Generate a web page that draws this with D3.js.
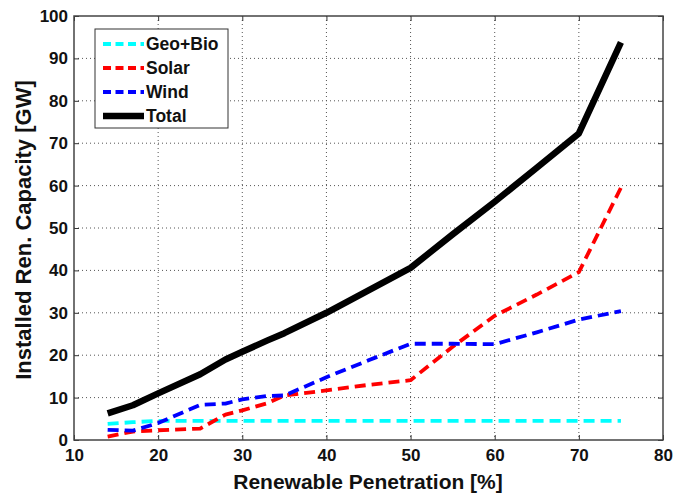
<!DOCTYPE html>
<html>
<head>
<meta charset="UTF-8">
<script src="https://d3js.org/d3.v7.min.js"></script>
<style>
  body { margin: 0; background: #fff; }
  text { font-family: "Liberation Sans", Arial, sans-serif; font-weight: bold; }
</style>
</head>
<body>
<svg id="chart"></svg>
<script>
// renewable penetration [%]
const penetration = [14, 17, 20, 25, 28, 30, 33, 35, 40, 45, 50, 55, 60, 65, 70, 75];
// installed capacity [GW]
const geoBio = [3.8, 4.2, 4.5, 4.5, 4.5, 4.5, 4.5, 4.5, 4.5, 4.5, 4.5, 4.5, 4.5, 4.5, 4.5, 4.5];
const solar  = [0.8, 2.0, 2.3, 2.7, 6.0, 7.0, 8.7, 10.5, 11.7, 13.0, 14.1, 22.0, 29.3, 34.3, 39.6, 59.5];
const wind   = [2.4, 2.2, 4.0, 8.3, 8.6, 9.6, 10.4, 10.5, 14.8, 18.8, 22.7, 22.7, 22.6, 25.4, 28.4, 30.4];
const total  = [6.3, 8.2, 11.0, 15.5, 19.0, 20.8, 23.5, 25.2, 30.0, 35.3, 40.6, 48.5, 56.2, 64.2, 72.3, 93.8];

const xTicks = [10, 20, 30, 40, 50, 60, 70, 80];
const yTicks = [0, 10, 20, 30, 40, 50, 60, 70, 80, 90, 100];

const series = [
  { name: "Geo+Bio", values: geoBio, color: "#00ffff", width: 3.8, dash: "11,6" },
  { name: "Solar", values: solar, color: "#ff0000", width: 3.8, dash: "11,6" },
  { name: "Wind", values: wind, color: "#0000ff", width: 3.8, dash: "11,6" },
  { name: "Total", values: total, color: "#000000", width: 6.5, dash: null }
];

const width = 673, height = 496;
const margin = { top: 16, right: 10, bottom: 56, left: 74 };
const w = width - margin.left - margin.right;
const h = height - margin.top - margin.bottom;

const svg = d3.select("#chart").attr("width", width).attr("height", height);
const g = svg.append("g").attr("transform", `translate(${margin.left},${margin.top})`);

const x = d3.scaleLinear().domain([10, 80]).range([0, w]);
const y = d3.scaleLinear().domain([0, 100]).range([h, 0]);

// grid
g.append("g").selectAll("line").data(xTicks.slice(1, -1)).join("line")
  .attr("x1", d => x(d)).attr("x2", d => x(d)).attr("y1", 0).attr("y2", h)
  .attr("stroke", "#555").attr("stroke-width", 1).attr("stroke-dasharray", "1,3");
g.append("g").selectAll("line").data(yTicks.slice(1, -1)).join("line")
  .attr("y1", d => y(d)).attr("y2", d => y(d)).attr("x1", 0).attr("x2", w)
  .attr("stroke", "#555").attr("stroke-width", 1).attr("stroke-dasharray", "1,3");

// axes with inward ticks
const axisStyle = sel => {
  sel.select(".domain").remove();
  sel.selectAll(".tick line").attr("stroke", "#333");
  sel.selectAll("text").attr("font-size", 17).attr("fill", "#111")
    .style("font-family", "'Liberation Sans', Arial, sans-serif").style("font-weight", "bold");
};
g.append("g").attr("transform", `translate(0,${h})`)
  .call(d3.axisBottom(x).tickValues(xTicks).tickSize(-5).tickPadding(9))
  .call(axisStyle);
g.append("g")
  .call(d3.axisTop(x).tickValues(xTicks).tickSize(-5).tickFormat(""))
  .call(axisStyle);
g.append("g")
  .call(d3.axisLeft(y).tickValues(yTicks).tickSize(-5).tickPadding(6))
  .call(axisStyle);
g.append("g").attr("transform", `translate(${w},0)`)
  .call(d3.axisRight(y).tickValues(yTicks).tickSize(-5).tickFormat(""))
  .call(axisStyle);

// frame
g.append("rect").attr("width", w).attr("height", h)
  .attr("fill", "none").attr("stroke", "#444").attr("stroke-width", 1.5);

// lines
const line = vals => d3.line()
  .x((d, i) => x(penetration[i]))
  .y(d => y(d))(vals);

g.selectAll("path.series").data(series).join("path")
  .attr("class", "series")
  .attr("d", d => line(d.values))
  .attr("fill", "none")
  .attr("stroke", d => d.color)
  .attr("stroke-width", d => d.width)
  .attr("stroke-dasharray", d => d.dash)
  .attr("stroke-linejoin", "round");

// legend
const leg = g.append("g").attr("transform", "translate(21,13)");
leg.append("rect").attr("width", 133).attr("height", 99)
  .attr("fill", "#fff").attr("stroke", "#333").attr("stroke-width", 1);
series.forEach((s, i) => {
  const yy = 15 + i * 24;
  leg.append("line").attr("x1", 8).attr("x2", 49).attr("y1", yy).attr("y2", yy)
    .attr("stroke", s.color).attr("stroke-width", s.width)
    .attr("stroke-dasharray", s.dash ? "8,4.5" : null);
  leg.append("text").attr("x", 51).attr("y", yy).attr("dy", "0.36em")
    .attr("font-size", 17.5).attr("fill", "#111").text(s.name);
});

// axis titles
svg.append("text")
  .attr("x", 368).attr("y", 489)
  .attr("text-anchor", "middle").attr("font-size", 21).attr("fill", "#111")
  .text("Renewable Penetration [%]");
svg.append("text")
  .attr("transform", `translate(31,230) rotate(-90)`)
  .attr("text-anchor", "middle").attr("font-size", 22).attr("fill", "#111")
  .text("Installed Ren. Capacity [GW]");
</script>
</body>
</html>
